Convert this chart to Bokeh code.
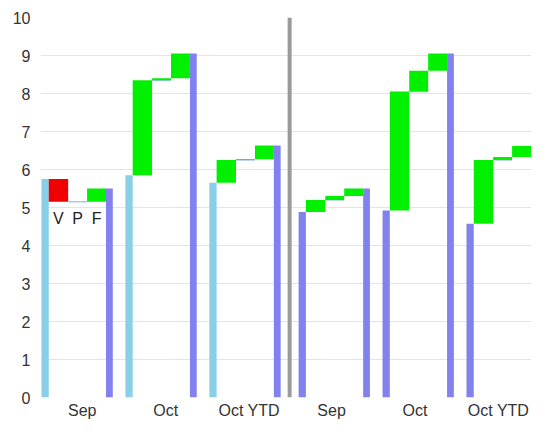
from bokeh.plotting import figure
from bokeh.models import Range1d, FixedTicker
from bokeh.embed import file_html
from bokeh.resources import INLINE
from bokeh.core.properties import value

# ---------------- data ----------------
categories = ["Sep", "Oct", "Oct YTD", "Sep", "Oct", "Oct YTD"]
start_values = [5.75, 5.85, 5.65, 4.88, 4.92, 4.57]
v_values = [-0.60, 2.50, 0.60, 0.32, 3.13, 1.68]
p_values = [0.00, 0.05, 0.02, 0.10, 0.55, 0.08]
f_values = [0.35, 0.65, 0.36, 0.20, 0.45, 0.29]
step_labels = ["V", "P", "F"]
y_ticks = [0, 1, 2, 3, 4, 5, 6, 7, 8, 9, 10]

# ---------------- layout / style ----------------
FONT = "Liberation Sans"
LIGHT_BLUE = "#89cfe8"
PURPLE = "#8282ee"
GREEN = "#00f000"
RED = "#f00000"
CONNECT = "#a9cbe0"
GRID = "#e4e4e4"
SEP = "#9a9a9a"

GROUP_X0 = 1.0
GROUP_STEP = 86.5
SEP_GAP = 5.5
SLOTS = [0.0, 7.5, 27.5, 47.0, 66.5, 73.5]   # start | V | P | F | end
LABEL_X0 = 43
LABEL_STEP = 85.8
X_SPAN = 506

n = len(categories)
half = n // 2

p = figure(width=531, height=421, x_range=Range1d(0, X_SPAN), y_range=Range1d(0, 10),
           output_backend="svg", toolbar_location=None,
           min_border_left=40, min_border_right=0, min_border_top=17, min_border_bottom=24)
p.outline_line_color = None
p.background_fill_color = "white"
p.border_fill_color = "white"
p.xgrid.grid_line_color = None
p.ygrid.grid_line_color = GRID
p.ygrid.grid_line_width = 1.2
p.ygrid.ticker = FixedTicker(ticks=y_ticks)

# y axis
p.yaxis.ticker = FixedTicker(ticks=y_ticks)
p.yaxis.axis_line_color = None
p.yaxis.major_tick_line_color = None
p.yaxis.minor_tick_line_color = None
p.yaxis.major_tick_out = 0
p.yaxis.major_tick_in = 0
p.yaxis.major_label_text_font = FONT
p.yaxis.major_label_text_font_size = "16px"
p.yaxis.major_label_text_color = "#333333"
p.yaxis.major_label_standoff = 10

# x axis with category labels
tick_pos = [int(round(LABEL_X0 + i * LABEL_STEP)) for i in range(n)]
p.xaxis.ticker = FixedTicker(ticks=tick_pos)
p.xaxis.major_label_overrides = {t: c for t, c in zip(tick_pos, categories)}
p.xaxis.axis_line_color = None
p.xaxis.major_tick_line_color = None
p.xaxis.minor_tick_line_color = None
p.xaxis.major_tick_out = 0
p.xaxis.major_tick_in = 0
p.xaxis.major_label_text_font = FONT
p.xaxis.major_label_text_font_size = "16px"
p.xaxis.major_label_text_color = "#333333"
p.xaxis.major_label_standoff = 4

def group_left(i):
    return GROUP_X0 + i * GROUP_STEP + (SEP_GAP if i >= half else 0.0)

# separator between the two halves
sep_x = (group_left(half - 1) + SLOTS[-1] + group_left(half)) / 2.0
p.segment(x0=[sep_x], x1=[sep_x], y0=[0], y1=[10], line_color=SEP, line_width=4)

for i in range(n):
    gl = group_left(i)
    start = start_values[i]
    deltas = [v_values[i], p_values[i], f_values[i]]
    # start bar
    p.quad(left=[gl + SLOTS[0]], right=[gl + SLOTS[1]], bottom=[0], top=[start],
           fill_color=LIGHT_BLUE if i < half else PURPLE, line_color=None)
    level = start
    for k, d in enumerate(deltas):
        new = level + d
        if k == 1:
            # connector across the P slot at the level reached after V
            p.segment(x0=[gl + SLOTS[2]], x1=[gl + SLOTS[3]], y0=[level], y1=[level],
                      line_color=CONNECT, line_width=1.5)
        if d != 0:
            p.quad(left=[gl + SLOTS[k + 1]], right=[gl + SLOTS[k + 2]],
                   bottom=[min(level, new)], top=[max(level, new)],
                   fill_color=RED if d < 0 else GREEN, line_color=None)
        level = new
    # end bar
    p.quad(left=[gl + SLOTS[4]], right=[gl + SLOTS[5]], bottom=[0], top=[level],
           fill_color=PURPLE, line_color=None)

# step labels under the first group
gl0 = group_left(0)
lab_x = [gl0 + (SLOTS[k + 1] + SLOTS[k + 2]) / 2.0 for k in range(3)]
low0 = min(start_values[0], start_values[0] + v_values[0])
p.text(x=lab_x, y=[low0 - 0.45] * 3, text=step_labels,
       text_font=value(FONT), text_font_size="16px", text_color="#222222",
       text_align="center", text_baseline="middle")

open("out.html", "w").write(file_html(p, INLINE))
